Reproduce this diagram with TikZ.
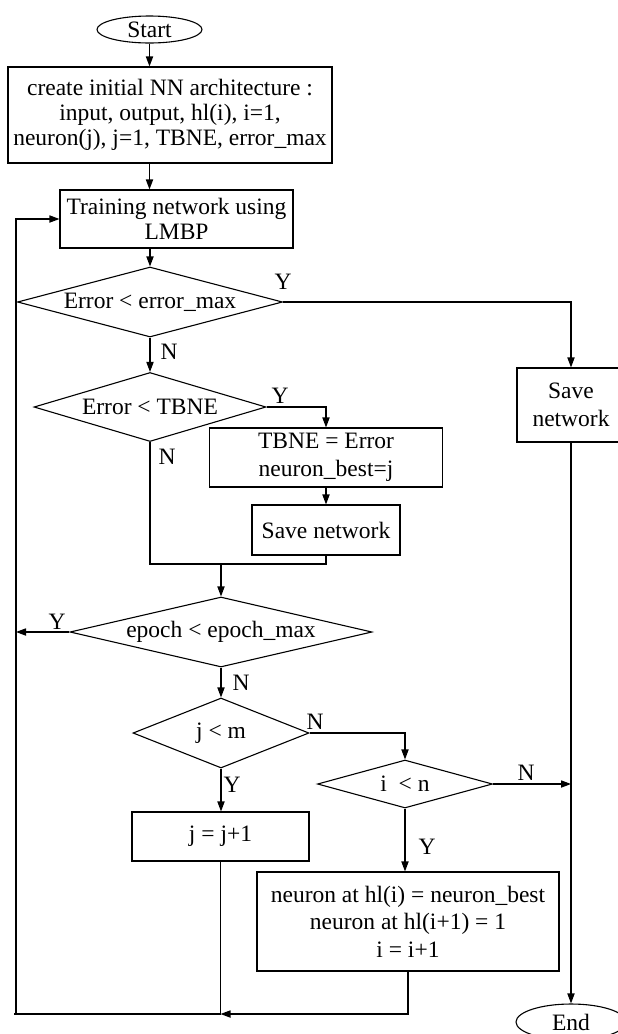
\documentclass[tikz,border=0pt]{standalone}
\usepackage{fontspec}
\setmainfont{Liberation Serif}
\usetikzlibrary{shapes.geometric,arrows.meta}

\begin{document}
\begin{tikzpicture}[x=0.5pt,y=-0.5pt,
  every node/.style={font=\fontsize{11.75}{12.5}\selectfont},
  box/.style={draw,rectangle,align=center,inner sep=0pt,line width=0.55pt},
  wide/.style={font=\fontsize{11.75}{13.75}\selectfont},
  term/.style={draw,ellipse,inner sep=0pt,line width=0.55pt},
  decide/.style={draw,diamond,aspect=#1,inner sep=0pt,line width=0.55pt},
  arr/.style={line width=0.55pt,-{Triangle[length=5pt,width=3.6pt]}},
  ln/.style={line width=0.55pt}]
\useasboundingbox (0,0) rectangle (617,1034);

\node[term,minimum width=52.5pt,minimum height=13.5pt] at (149.5,29.5) (start) {Start};
\node[box,minimum width=162pt,minimum height=48pt] at (170,115) (init) {create initial NN architecture :\\ input, output, hl(i), i=1,\\ neuron(j), j=1, TBNE, error\_max};
\node[box,minimum width=116.5pt,minimum height=29pt] at (176.5,219) (train) {Training network using\\ LMBP};
\node[decide=3.79,minimum width=132.5pt,minimum height=35pt] at (150,302) (errmax) {Error < error\_max};
\node[decide=3.36,minimum width=116pt,minimum height=34.5pt] at (150,407) (errtbne) {Error < TBNE};
\node[box,wide,minimum width=54pt,minimum height=37pt] at (571,405) (savefinal) {Save\\ network};
\node[box,wide,minimum width=116.5pt,minimum height=29.5pt] at (326,457.5) (best) {TBNE = Error\\ neuron\_best=j};
\node[box,minimum width=74pt,minimum height=25pt] at (326,530) (savebest) {Save network};
\coordinate (join) at (221,564);
\node[decide=4.31,minimum width=151pt,minimum height=35pt] at (221,632) (epoch) {epoch < epoch\_max};
\node[decide=2.5,minimum width=88pt,minimum height=35pt] at (221,733) (jm) {j < m};
\node[decide=3.65,minimum width=87.5pt,minimum height=24pt] at (405,784) (in) {i \ < n};
\node[box,minimum width=88.5pt,minimum height=24.5pt] at (220.5,836.5) (jinc) {j = j+1};
\node[box,wide,minimum width=151pt,minimum height=49.5pt] at (408,921.5) (iinc) {neuron at hl(i) = neuron\_best\\ neuron at hl(i+1) = 1\\ i = i+1};
\node[term,minimum width=55pt,minimum height=18pt] at (571,1022) (end) {End};
\coordinate (lft) at (16,1014);

% yes / no labels
\node at (283,282) (y1) {Y};
\node at (169,352) (n1) {N};
\node at (280,396) (y2) {Y};
\node at (167,457) (n2) {N};
\node at (57,622) (y3) {Y};
\node at (241,683) (n3) {N};
\node at (315,722) (n4) {N};
\node at (232,785) (y4) {Y};
\node at (526,773) (n5) {N};
\node at (427,847) (y5) {Y};

\draw[arr] (start.south) -- (start.south |- init.north);
\draw[arr] (start.south |- init.south) -- (start.south |- train.north);
\draw[arr] (errmax.north |- train.south) -- (errmax.north);
\draw[arr] (errmax.south) -- (errtbne.north);
\draw[arr] (errmax.east) -| (savefinal.north);
\draw[arr] (errtbne.east) -| (best.north);
\draw[arr] (best.south) -- (savebest.north);
\draw[ln] (errtbne.south) |- (savebest.south |- join) -- (savebest.south);
\draw[arr] (join) -- (epoch.north);
\draw[arr] (epoch.west) -- (epoch.west -| lft);
\draw[arr] (epoch.south) -- (jm.north);
\draw[arr] (jm.east) -| (in.north);
\draw[arr] (jm.south) -- (jm.south |- jinc.north);
\draw[arr] (in.east) -- (in.east -| savefinal.south);
\draw[arr] (in.south) -- (in.south |- iinc.north);
\draw[arr] (savefinal.south) -- (end.north);
\draw[ln] (jinc.south) -- (jinc.south |- lft);
\draw[arr] (iinc.south) |- (jinc.south |- lft);
% back to training
\draw[ln] ([xshift=-1pt]lft) -- (jinc.south |- lft);
\draw[arr] (lft) |- (train.west);
\end{tikzpicture}
\end{document}
